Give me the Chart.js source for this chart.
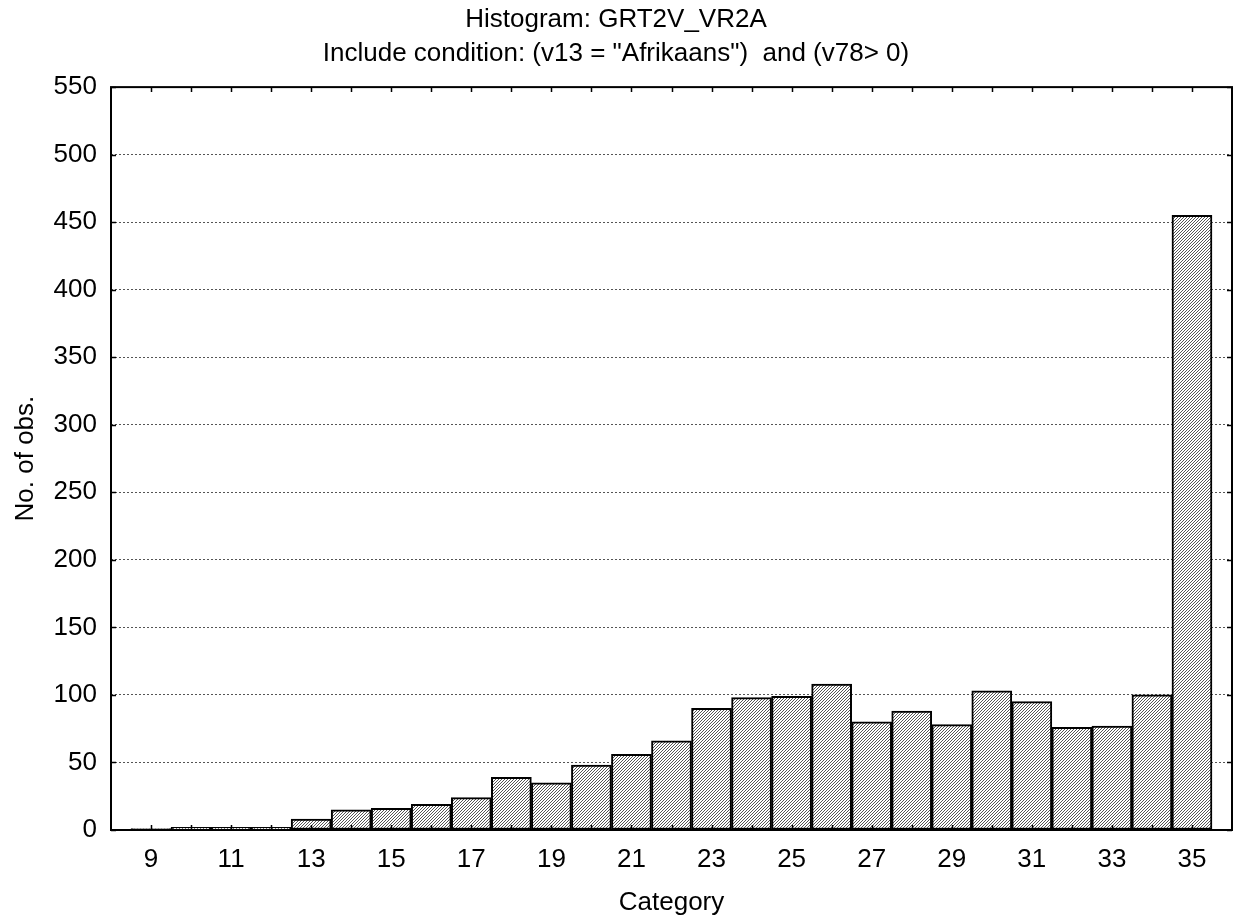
<!DOCTYPE html>
<html>
<head>
<meta charset="utf-8">
<script src="https://cdn.jsdelivr.net/npm/chart.js@4.4.1/dist/chart.umd.min.js"></script>
<style>
  html, body { margin: 0; padding: 0; background: #fff; }
  #wrap { width: 1233px; height: 920px; }
</style>
</head>
<body>
<div id="wrap"><canvas id="c" width="1233" height="920"></canvas></div>
<script>
const categories = [9, 10, 11, 12, 13, 14, 15, 16, 17, 18, 19, 20, 21, 22, 23, 24, 25, 26, 27, 28, 29, 30, 31, 32, 33, 34, 35];
const counts = [1, 2, 2, 2, 8, 15, 16, 19, 24, 39, 35, 48, 56, 66, 90, 98, 99, 108, 80, 88, 78, 103, 95, 76, 77, 100, 455];
const titleLines = ['Histogram: GRT2V_VR2A', 'Include condition: (v13 = "Afrikaans")  and (v78> 0)'];

// hatched fill like the original //// pattern
function hatch() {
    const p = document.createElement('canvas');
    p.width = 3; p.height = 3;
    const g = p.getContext('2d');
    g.fillStyle = '#fff';
    g.fillRect(0, 0, 3, 3);
    g.fillStyle = '#555';
    g.fillRect(2, 0, 1, 1);
    g.fillRect(1, 1, 1, 1);
    g.fillRect(0, 2, 1, 1);
    return g.createPattern(p, 'repeat');
}

// frame + inward ticks on all four sides
const frameTicks = {
    id: 'frameTicks',
    afterDraw(chart) {
        const { ctx, chartArea: a, scales: { x, y } } = chart;
        ctx.save();
        ctx.strokeStyle = '#000';
        ctx.lineWidth = 1.5;
        ctx.beginPath();
        categories.forEach(c => {
            const px = Math.round(x.getPixelForValue(c)) + 0.5;
            ctx.moveTo(px, a.bottom); ctx.lineTo(px, a.bottom - 5);
            ctx.moveTo(px, a.top); ctx.lineTo(px, a.top + 5);
        });
        y.ticks.forEach(t => {
            const py = Math.round(y.getPixelForValue(t.value)) + 0.5;
            ctx.moveTo(a.left, py); ctx.lineTo(a.left + 5, py);
            ctx.moveTo(a.right, py); ctx.lineTo(a.right - 5, py);
        });
        ctx.stroke();
        ctx.lineWidth = 2;
        ctx.strokeRect(a.left, a.top, a.right - a.left, a.bottom - a.top);
        ctx.restore();
    }
};

Chart.defaults.font.family = '"Liberation Sans", Arial, sans-serif';
Chart.defaults.font.size = 26;
Chart.defaults.color = '#000';

new Chart(document.getElementById('c').getContext('2d'), {
    type: 'bar',
    data: {
        datasets: [{
            data: categories.map((c, i) => ({ x: c, y: counts[i] })),
            backgroundColor: hatch(),
            borderColor: '#000',
            borderWidth: 2,
            borderSkipped: false,
            barPercentage: 1,
            categoryPercentage: 1
        }]
    },
    options: {
        responsive: false,
        animation: false,
        layout: { padding: { left: 0, right: 1, top: 0, bottom: 0 } },
        plugins: {
            legend: { display: false },
            tooltip: { enabled: false },
            title: {
                display: true,
                text: titleLines,
                font: { size: 26, weight: 'normal', lineHeight: 1.31 },
                padding: { top: 3, bottom: 16 }
            }
        },
        scales: {
            x: {
                type: 'linear',
                min: 8,
                max: 36,
                offset: false,
                grid: { display: false, drawTicks: false },
                border: { display: false },
                ticks: {
                    stepSize: 1,
                    autoSkip: false,
                    maxRotation: 0,
                    padding: 14,
                    callback: v => (v % 2 ? v : '')
                },
                title: { display: true, text: 'Category', padding: { top: 0, bottom: 2 } },
                afterFit: s => { s.height = 90; s.paddingLeft = 0; s.paddingRight = 0; }
            },
            y: {
                min: 0,
                max: 550,
                grid: {
                    drawTicks: false,
                    color: ctx => (ctx.tick.value === 0 || ctx.tick.value === 550 ? 'rgba(0,0,0,0)' : '#555'),
                    lineWidth: 1
                },
                border: { display: false, dash: [2, 2] },
                ticks: { stepSize: 50, padding: 14 },
                title: { display: true, text: 'No. of obs.', padding: { top: 10, bottom: 0 } },
                afterFit: s => { s.width = 111; }
            }
        }
    },
    plugins: [frameTicks]
});
</script>
</body>
</html>
